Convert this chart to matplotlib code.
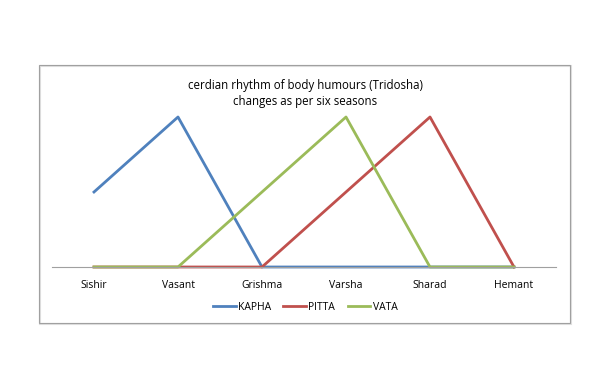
import matplotlib.pyplot as plt
import matplotlib.patches as mpatches

seasons = ["Sishir", "Vasant", "Grishma", "Varsha", "Sharad", "Hemant"]
kapha = [1, 2, 0, 0, 0, 0]
pitta = [0, 0, 0, 1, 2, 0]
vata = [0, 0, 1, 2, 0, 0]

plt.rcParams['font.family'] = ['Open Sans', 'DejaVu Sans']

fig = plt.figure(figsize=(6, 3.88), dpi=100)
W, H = 600, 388

# outer chart frame (with a faint shadow)
fig.patches.append(mpatches.Rectangle((40/W, 1-324/H), 531/W, 258/H, transform=fig.transFigure,
                                      fill=False, edgecolor='#e0e0e0', lw=1.5))
fig.patches.append(mpatches.Rectangle((39/W, 1-323/H), 531/W, 258/H, transform=fig.transFigure,
                                      fill=False, edgecolor='#a0a0a0', lw=0.8))

ax = fig.add_axes([52/W, 1-267/H, 504/W, 187.5/H])
x = range(len(seasons))
ax.plot(x, kapha, color='#4F81BD', lw=2, label='KAPHA', clip_on=False)
ax.plot(x, pitta, color='#C0504D', lw=2, label='PITTA', clip_on=False)
ax.plot(x, vata, color='#9BBB59', lw=2, label='VATA', clip_on=False)

ax.set_xlim(-0.5, 5.5)
ax.set_ylim(0, 2.5)
ax.set_xticks(list(x))
ax.set_xticklabels(seasons, fontsize=7.5)
ax.tick_params(axis='x', length=0, pad=9)
ax.set_yticks([])
for s in ['top', 'right', 'left']:
    ax.spines[s].set_visible(False)
ax.spines['bottom'].set_color('#a0a0a0')
ax.spines['bottom'].set_linewidth(0.8)

fig.text(305/W, 1-86/H, "cerdian rhythm of body humours (Tridosha)", ha='center', va='center', fontsize=8.3)
fig.text(305/W, 1-101/H, "changes as per six seasons", ha='center', va='center', fontsize=8.3)

fig.legend(loc='center', bbox_to_anchor=(305/W, 1-307/H), ncol=3, frameon=False, fontsize=7.5,
           handlelength=2.2, handletextpad=0.2, columnspacing=1.2)

plt.savefig("out.png", dpi=100)
